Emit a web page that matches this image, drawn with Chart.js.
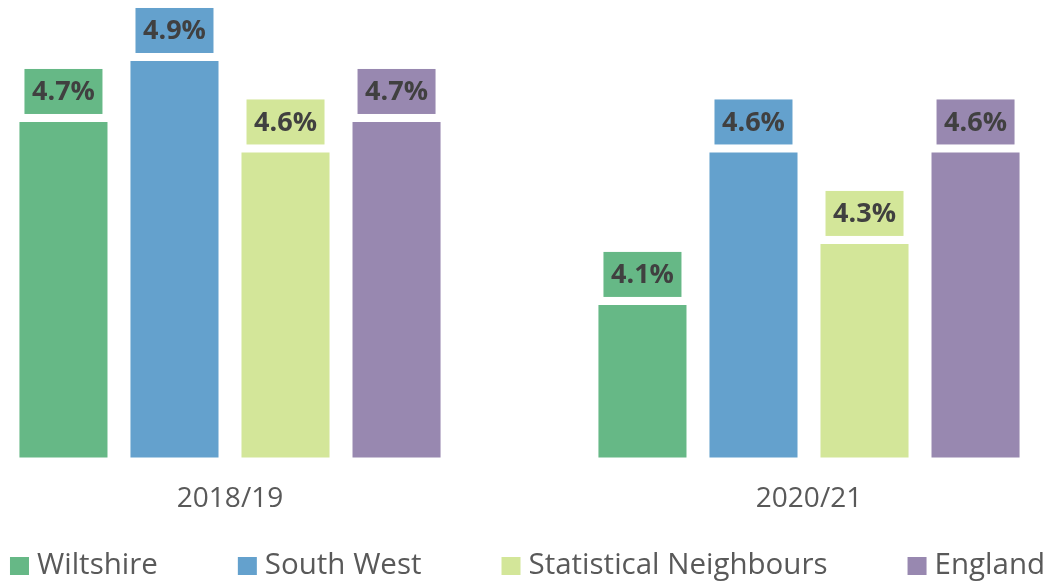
<!DOCTYPE html>
<html>
<head>
<meta charset="utf-8">
<script src="https://cdn.jsdelivr.net/npm/chart.js@4/dist/chart.umd.min.js"></script>
<style>
  html, body { margin: 0; padding: 0; background: #fff; overflow: hidden; }
  /* canvas is wider than the window so the two groups sit where the original puts them */
  #wrap { position: absolute; left: -70px; top: 0; width: 1191px; height: 582px; }
</style>
</head>
<body>
<div id="wrap"><canvas id="chart"></canvas></div>
<script>
// datos
const categories = ['2018/19', '2020/21'];
const seriesNames = ['Wiltshire', 'South West', 'Statistical Neighbours', 'England'];
const wiltshire = [4.7, 4.1];
const southWest = [4.9, 4.6];
const statNeighbours = [4.6, 4.3];
const england = [4.7, 4.6];
const colours = ['#66b886', '#64a1cd', '#d3e699', '#9888b0'];

const FONT = '"Open Sans", "Noto Sans", sans-serif';

// etiquetas con caja de color encima de cada barra
const boxLabelPlugin = {
    id: 'boxLabelPlugin',
    afterDatasetsDraw(chart) {
        const ctx = chart.ctx;
        chart.data.datasets.forEach((dataset, di) => {
            const meta = chart.getDatasetMeta(di);
            if (!meta || meta.hidden) return;
            meta.data.forEach((bar, i) => {
                const w = 78, h = 45, gap = 8;
                const top = bar.y - gap - h;
                ctx.save();
                ctx.fillStyle = dataset.backgroundColor;
                ctx.fillRect(bar.x - w / 2, top, w, h);
                ctx.font = 'bold 27px ' + FONT;
                ctx.fillStyle = '#404040';
                ctx.textAlign = 'center';
                ctx.textBaseline = 'middle';
                ctx.fillText(dataset.data[i].toFixed(1) + '%', bar.x, top + h / 2 + 1);
                ctx.restore();
            });
        });
    }
};

// leyenda repartida como en Excel
const spreadLegendPlugin = {
    id: 'spreadLegendPlugin',
    afterDraw(chart) {
        const ctx = chart.ctx;
        ctx.save();
        ctx.font = '29.5px ' + FONT;
        const box = 19, textGap = 8, itemGap = 80;
        const items = chart.data.datasets.map(d => ({
            text: d.label,
            color: d.backgroundColor,
            width: box + textGap + ctx.measureText(d.label).width
        }));
        const total = items.reduce((s, it) => s + it.width, 0) + itemGap * (items.length - 1);
        let x = chart.width / 2 - total / 2 + 2;
        const yMid = 566;
        items.forEach(it => {
            ctx.fillStyle = it.color;
            ctx.fillRect(x, yMid - 9, box, 18);
            ctx.fillStyle = '#595959';
            ctx.textAlign = 'left';
            ctx.textBaseline = 'middle';
            ctx.fillText(it.text, x + box + textGap, yMid);
            x += it.width + itemGap;
        });
        ctx.restore();
    }
};

const seriesData = [wiltshire, southWest, statNeighbours, england];

new Chart(document.getElementById('chart'), {
    type: 'bar',
    data: {
        labels: categories,
        datasets: seriesNames.map((name, i) => ({
            label: name,
            data: seriesData[i],
            backgroundColor: colours[i],
            categoryPercentage: 0.767,
            barPercentage: 0.793
        }))
    },
    options: {
        responsive: true,
        maintainAspectRatio: false,
        animation: false,
        layout: { padding: { left: 10.5, right: 22.5, top: 0, bottom: 41 } },
        plugins: {
            legend: { display: false },
            tooltip: { enabled: false }
        },
        scales: {
            x: {
                grid: { display: false, drawTicks: false },
                border: { display: false },
                ticks: { padding: 25, color: '#595959', font: { family: FONT, size: 28 } }
            },
            y: {
                display: false,
                min: 3.6,
                max: 5.1
            }
        }
    },
    plugins: [boxLabelPlugin, spreadLegendPlugin]
});
</script>
</body>
</html>
